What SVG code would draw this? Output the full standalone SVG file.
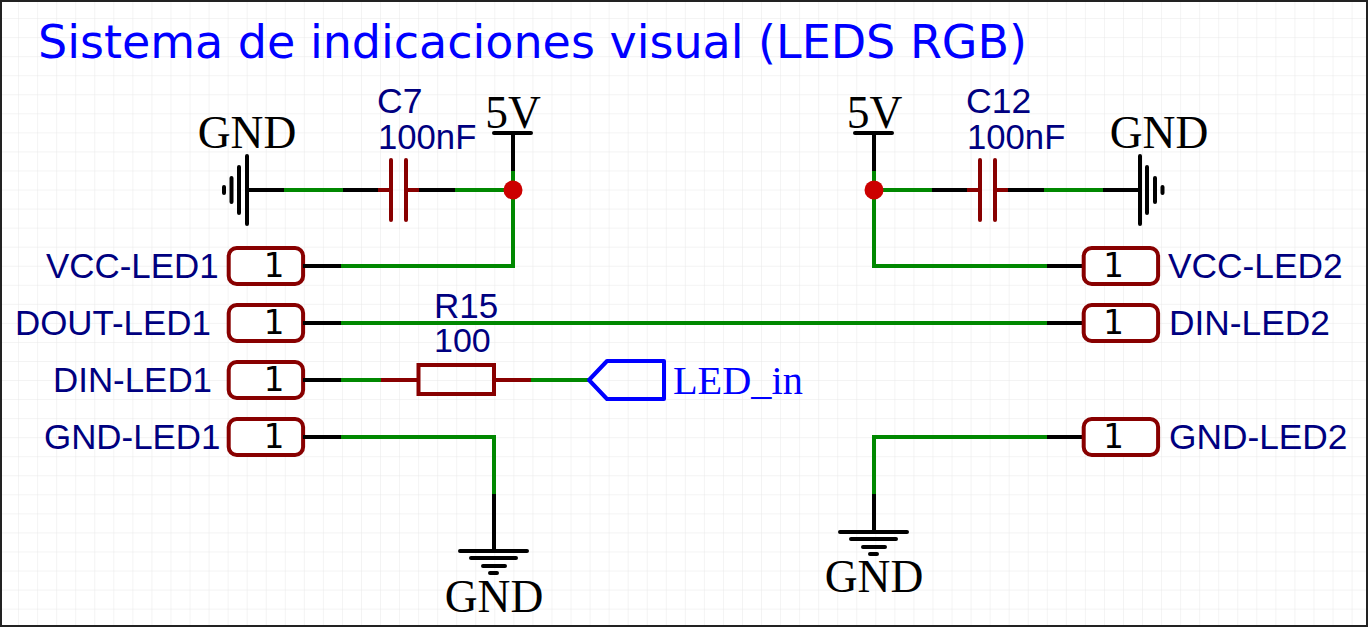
<svg xmlns="http://www.w3.org/2000/svg" width="1368" height="627" viewBox="0 0 1368 627">
<style>
.w{fill:none;stroke:#008800;stroke-width:4;stroke-linecap:butt;stroke-linejoin:miter}
.k{fill:none;stroke:#000;stroke-width:4;stroke-linecap:round}
.kb{fill:none;stroke:#000;stroke-width:4;stroke-linecap:butt}
.r{fill:none;stroke:#880000;stroke-width:4;stroke-linecap:butt}
.rr{fill:none;stroke:#880000;stroke-width:4;stroke-linecap:round}
.pin{fill:#fff;stroke:#880000;stroke-width:4}
.lb{font-family:"Liberation Sans",Arial,sans-serif;font-size:35.3px;fill:#000080}
.ll{font-size:34.9px}
.one{font-family:"DejaVu Sans Mono",monospace;font-size:34px;fill:#000;text-anchor:middle}
.net{font-family:"Liberation Serif","Times New Roman",serif;font-size:45.5px;fill:#000;text-anchor:middle}
</style>
<defs>
<pattern id="grid" width="19.05" height="19.05" patternUnits="userSpaceOnUse"><path d="M19.05 0V19.05M0 19.05H19.05" fill="none" stroke="#e8e8e8" stroke-width="1"/></pattern>
<rect id="pinbox" x="-37.2" y="-18" width="74.4" height="36" rx="8" class="pin"/>
</defs>
<rect width="1368" height="627" fill="#fff"/>
<rect width="1368" height="627" fill="url(#grid)"/>
<rect x="1" y="1" width="1366" height="625" fill="none" stroke="#222" stroke-width="2"/>
<text id="title" x="38" y="57.5" font-family="'DejaVu Sans',Verdana,sans-serif" font-size="46px" fill="#0000ff" textLength="989" lengthAdjust="spacing">Sistema de indicaciones visual (LEDS RGB)</text>
<g id="connectors">
<path class="w" d="M284 190H343M455 190H513M513 171V266H341M341 323H1047M341 380H381M531 380H589M341 437H494V494"/>
<path class="w" d="M874 171V266H1047M874 190H932M1044 190H1103M1047 437H874V494"/>
</g>
<g id="gnd-c7"><text class="net" x="247" y="147.5">GND</text><path class="k" d="M247 156V224M239 167V213M231.500 178V202M224 187V193"/><path class="kb" d="M247 190H284"/></g>
<g id="c7"><text class="lb" x="377" y="113" style="font-size:35.500px">C7</text><text class="lb" x="378" y="148.500" style="font-size:34.700px">100nF</text><path class="kb" d="M343 190H380M417 190H455"/><path class="rr" d="M391 160V220M406 160V220"/><path class="r" d="M378 190H391M406 190H419"/></g>
<g id="vcc-5v-left"><text class="net" x="513" y="128">5V</text><path class="k" d="M494 133H531"/><path class="kb" d="M513 133V171"/></g>
<circle id="junction-left" cx="513" cy="190" r="9.5" fill="#cc0000"/>
<g id="pin-vcc-led1"><use href="#pinbox" x="265.900" y="266"/><text class="one" x="273.500" y="277">1</text><path class="kb" d="M303 266H341"/><text class="lb ll" x="46" y="278">VCC-LED1</text></g>
<g id="pin-dout-led1"><use href="#pinbox" x="265.900" y="323"/><text class="one" x="273.500" y="334">1</text><path class="kb" d="M303 323H341"/><text class="lb ll" x="15" y="335">DOUT-LED1</text></g>
<g id="pin-din-led1"><use href="#pinbox" x="265.900" y="380"/><text class="one" x="273.500" y="391">1</text><path class="kb" d="M303 380H341"/><text class="lb ll" x="53" y="392">DIN-LED1</text></g>
<g id="pin-gnd-led1"><use href="#pinbox" x="265.900" y="437"/><text class="one" x="273.500" y="448">1</text><path class="kb" d="M303 437H341"/><text class="lb ll" x="44" y="449">GND-LED1</text></g>
<g id="r15"><text class="lb" x="434" y="318" style="font-size:35px">R15</text><text class="lb" x="434" y="352" style="font-size:34px">100</text><path class="r" d="M381 380H418M494 380H531"/><rect x="418.500" y="365" width="75.500" height="29" fill="none" stroke="#880000" stroke-width="4"/></g>
<g id="led-in"><path d="M589 380L607 361H664V399H607Z" fill="none" stroke="#0000ff" stroke-width="4" stroke-linejoin="round"/><text x="673" y="393.500" font-family="'Liberation Serif','Times New Roman',serif" font-size="40.300px" fill="#0000ff">LED_in</text></g>
<g id="gnd-bottom-left"><path class="kb" d="M494 494V551"/><path class="k" d="M460 551H527M471 558H516M483 566H505M490 573H497"/><text class="net" x="494" y="612">GND</text></g>
<g id="gnd-bottom-right"><path class="kb" d="M874 494V532"/><path class="k" d="M840 532H907M851 539H896M863 547H885M870 554H877"/><text class="net" x="874" y="592">GND</text></g>
<g id="vcc-5v-right"><text class="net" x="874.500" y="128">5V</text><path class="k" d="M855 133H892"/><path class="kb" d="M874 133V171"/></g>
<circle id="junction-right" cx="874" cy="190" r="9.5" fill="#cc0000"/>
<g id="c12"><text class="lb" x="966" y="113" style="font-size:35.500px">C12</text><text class="lb" x="967" y="148.500" style="font-size:34.700px">100nF</text><path class="kb" d="M932 190H969M1006 190H1044"/><path class="rr" d="M980 160V220M995 160V220"/><path class="r" d="M967 190H980M995 190H1008"/></g>
<g id="gnd-c12"><text class="net" x="1159" y="147.500">GND</text><path class="k" d="M1140 156V224M1147 167V213M1155 178V202M1162.500 187V193"/><path class="kb" d="M1103 190H1140"/></g>
<g id="pin-vcc-led2"><path class="kb" d="M1047 266H1085"/><use href="#pinbox" x="1120.900" y="266"/><text class="one" x="1113" y="277">1</text><text class="lb" x="1168" y="278">VCC-LED2</text></g>
<g id="pin-din-led2"><path class="kb" d="M1047 323H1085"/><use href="#pinbox" x="1120.900" y="323"/><text class="one" x="1113" y="334">1</text><text class="lb" x="1169" y="335">DIN-LED2</text></g>
<g id="pin-gnd-led2"><path class="kb" d="M1047 437H1085"/><use href="#pinbox" x="1120.900" y="437"/><text class="one" x="1113" y="448">1</text><text class="lb" x="1169" y="449">GND-LED2</text></g>
</svg>
